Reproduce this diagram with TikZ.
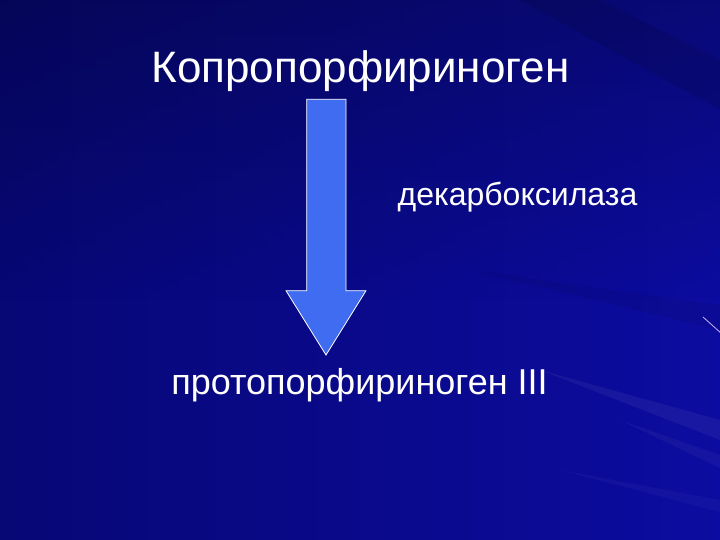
\documentclass[tikz,border=0pt]{standalone}
\usepackage{fontspec}
\setmainfont{Liberation Sans}
\usetikzlibrary{fadings}
\definecolor{bgdark}{RGB}{7,7,118}
\definecolor{bglight}{RGB}{12,12,160}
\definecolor{arrowblue}{RGB}{64,108,242}
\definecolor{streak}{RGB}{200,180,240}
\tikzset{
  lbl/.style={text=white, inner sep=0pt, anchor=base},
  blockarrow/.style={fill=arrowblue, draw=white, line width=0.8pt, line join=miter},
  ray/.style={fill=white, opacity=0.05}
}
\begin{document}
\begin{tikzpicture}[x=1pt,y=-1pt]
\useasboundingbox (0,0) rectangle (720,540);
% background
\shade[left color=bgdark, right color=bglight] (0,0) rectangle (720,540);
\fill[black, path fading=south, opacity=0.25] (0,0) rectangle (720,300);
% faint rays
\fill[ray] (540,370) -- (720,420) -- (720,440) -- cycle;
\fill[ray, opacity=0.04] (620,420) -- (720,455) -- (720,468) -- cycle;
\fill[ray, opacity=0.03] (560,470) -- (720,500) -- (720,512) -- cycle;
\fill[black, opacity=0.10] (520,0) -- (720,110) -- (720,60) -- (600,0) -- cycle;
\fill[black, opacity=0.06] (470,270) -- (720,330) -- (720,305) -- cycle;
\draw[streak, line width=0.8pt] (703,317) -- (722,334);
% texts
\node[lbl, font=\fontsize{44}{50}\selectfont] (src) at (360.5,83) {Копропорфириноген};
\node[lbl, font=\fontsize{32}{38}\selectfont] (enz) at (517.5,206) {декарбоксилаза};
\node[lbl, font=\fontsize{36}{42}\selectfont] (dst) at (359.5,394) {протопорфириноген III};
% block arrow
\coordinate (a1) at (306.7,99.3);
\coordinate (a2) at (346,99.3);
\coordinate (a3) at (346,290.7);
\coordinate (a4) at (366,290.7);
\coordinate (tip) at (326,355);
\coordinate (a6) at (286,290.7);
\coordinate (a7) at (306.7,290.7);
\draw[blockarrow] (a1) -- (a2) -- (a3) -- (a4) -- (tip) -- (a6) -- (a7) -- cycle;
\end{tikzpicture}
\end{document}
